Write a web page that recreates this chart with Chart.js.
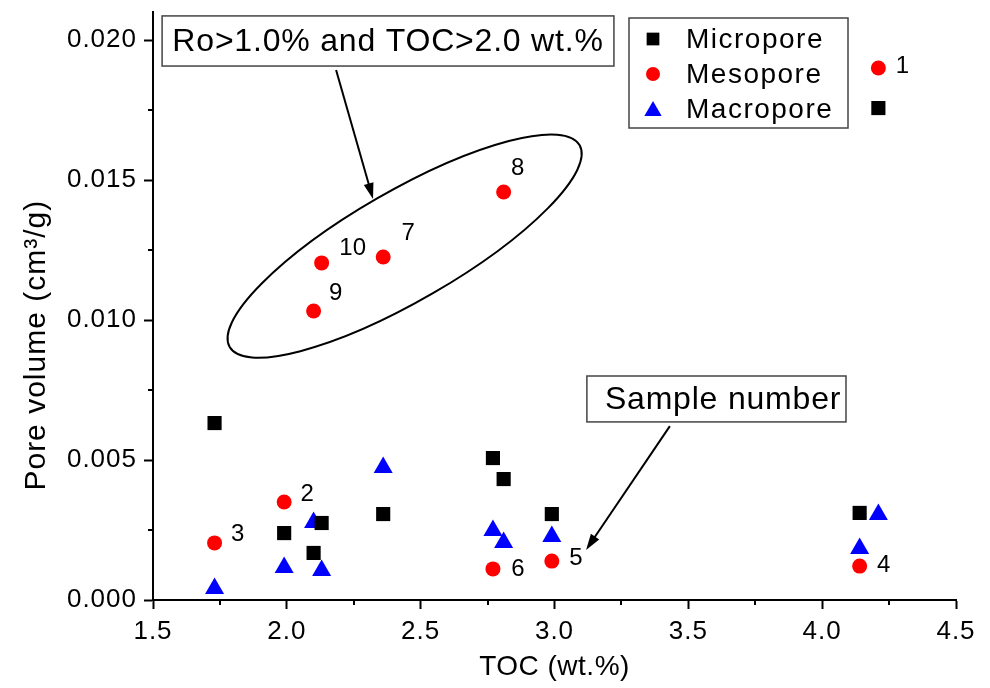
<!DOCTYPE html>
<html>
<head>
<meta charset="utf-8">
<script src="https://cdn.jsdelivr.net/npm/chart.js@4.4.1/dist/chart.umd.min.js"></script>
<style>
  html, body { margin: 0; padding: 0; background: #fff; }
  #wrap { width: 990px; height: 688px; }
</style>
</head>
<body>
<div id="wrap"><canvas id="mycanvas" width="990" height="688"></canvas></div>
<script>
// sample numbers and their TOC (wt.%)
var samples = ['1', '2', '3', '4', '5', '6', '7', '8', '9', '10'];
var toc = [4.21, 1.99, 1.73, 4.14, 2.99, 2.77, 2.36, 2.81, 2.10, 2.13];

// pore volume, cm3/g
var micropore = [0.01757, 0.00239, 0.00632, 0.00311, 0.00307, 0.00507, 0.00307, 0.00432, 0.00168, 0.00275];
var mesopore  = [0.01900, 0.00350, 0.00204, 0.00121, 0.00139, 0.00111, 0.01225, 0.01457, 0.01032, 0.01204];
var macropore = [0.00305, 0.00116, 0.00041, 0.00184, 0.00227, 0.00248, 0.00473, 0.00205, 0.00277, 0.00105];

var xTicks = [1.5, 2.0, 2.5, 3.0, 3.5, 4.0, 4.5];
var yTicks = [0.000, 0.005, 0.010, 0.015, 0.020];

// where the sample number sits relative to its mesopore point (px)
var labelShift = [[24, -2], [23, -8], [23, -9], [24, -1], [24, -3], [25, 0], [25, -24], [14, -24], [22, -18], [31, -15]];

var FONT = 'Arial, "Liberation Sans", sans-serif';

function pts(ys) {
  var out = [];
  for (var i = 0; i < toc.length; i++) out.push({x: toc[i], y: ys[i]});
  return out;
}

function arrow(ctx, x1, y1, x2, y2) {
  var ang = Math.atan2(y2 - y1, x2 - x1), len = 16, hw = 5;
  ctx.beginPath();
  ctx.moveTo(x1, y1);
  ctx.lineTo(x2 - Math.cos(ang) * len * 0.8, y2 - Math.sin(ang) * len * 0.8);
  ctx.stroke();
  ctx.beginPath();
  ctx.moveTo(x2, y2);
  ctx.lineTo(x2 - Math.cos(ang) * len - Math.sin(ang) * hw, y2 - Math.sin(ang) * len + Math.cos(ang) * hw);
  ctx.lineTo(x2 - Math.cos(ang) * len + Math.sin(ang) * hw, y2 - Math.sin(ang) * len - Math.cos(ang) * hw);
  ctx.closePath();
  ctx.fill();
}

function marker(ctx, style, r, x, y) {
  if (Chart.helpers && Chart.helpers.drawPoint) {
    Chart.helpers.drawPoint(ctx, {pointStyle: style, radius: r, rotation: 0, borderWidth: 0}, x, y);
  } else {
    ctx.beginPath(); ctx.arc(x, y, r, 0, Math.PI * 2); ctx.fill();
  }
}

var spacing = {
  id: 'spacing',
  beforeDraw: function(chart) { chart.ctx.letterSpacing = '1px'; }
};

var extras = {
  id: 'extras',
  afterDraw: function(chart) {
    var ctx = chart.ctx, xs = chart.scales.x, ys = chart.scales.y, a = chart.chartArea;
    ctx.save();

    // minor ticks
    ctx.strokeStyle = '#000';
    ctx.lineWidth = 2;
    ctx.beginPath();
    for (var v = 1.75; v < 4.5; v += 0.5) {
      var p = Math.round(xs.getPixelForValue(v));
      ctx.moveTo(p, a.bottom); ctx.lineTo(p, a.bottom + 5);
    }
    for (var w = 0.0025; w < 0.021; w += 0.005) {
      var q = Math.round(ys.getPixelForValue(w));
      ctx.moveTo(a.left, q); ctx.lineTo(a.left - 5, q);
    }
    ctx.stroke();

    // axis titles
    ctx.fillStyle = '#000';
    ctx.textAlign = 'center';
    ctx.textBaseline = 'middle';
    ctx.font = '28px ' + FONT;
    ctx.letterSpacing = '0.5px';
    ctx.fillText('TOC (wt.%)', (a.left + a.right) / 2, 667);
    ctx.save();
    ctx.translate(37, ys.getPixelForValue(0.0091));
    ctx.rotate(-Math.PI / 2);
    ctx.font = '30px ' + FONT;
    ctx.letterSpacing = '1px';
    ctx.fillText('Pore volume (cm\u00B3/g)', 0, 0);
    ctx.restore();

    // sample numbers
    ctx.letterSpacing = '0px';
    ctx.font = '24px ' + FONT;
    for (var i = 0; i < samples.length; i++) {
      ctx.fillText(samples[i], xs.getPixelForValue(toc[i]) + labelShift[i][0], ys.getPixelForValue(mesopore[i]) + labelShift[i][1]);
    }

    // ellipse round the high maturity samples
    ctx.lineWidth = 2;
    ctx.beginPath();
    ctx.ellipse(xs.getPixelForValue(2.44), ys.getPixelForValue(0.01264), 202, 55, -30 * Math.PI / 180, 0, Math.PI * 2);
    ctx.stroke();

    // text boxes
    ctx.strokeStyle = '#444';
    ctx.lineWidth = 1.5;
    var b1 = [xs.getPixelForValue(1.534), ys.getPixelForValue(0.02086), xs.getPixelForValue(3.222), ys.getPixelForValue(0.01907)];
    ctx.strokeRect(b1[0], b1[1], b1[2] - b1[0], b1[3] - b1[1]);
    var b2 = [xs.getPixelForValue(3.121), ys.getPixelForValue(0.0080), xs.getPixelForValue(4.089), ys.getPixelForValue(0.00636)];
    ctx.strokeRect(b2[0], b2[1], b2[2] - b2[0], b2[3] - b2[1]);
    ctx.font = '32px ' + FONT;
    ctx.letterSpacing = '0.8px';
    ctx.fillText('Ro>1.0% and TOC>2.0 wt.%', (b1[0] + b1[2]) / 2, (b1[1] + b1[3]) / 2 + 1);
    ctx.textAlign = 'left';
    ctx.fillText('Sample number', b2[0] + 18, (b2[1] + b2[3]) / 2 + 1);

    // arrows
    ctx.strokeStyle = '#000';
    ctx.lineWidth = 2;
    arrow(ctx, xs.getPixelForValue(2.184), ys.getPixelForValue(0.01893), xs.getPixelForValue(2.322), ys.getPixelForValue(0.01432));
    arrow(ctx, xs.getPixelForValue(3.431), ys.getPixelForValue(0.00621), xs.getPixelForValue(3.118), ys.getPixelForValue(0.00179));

    // legend
    var lx = a.right - 327, ly = a.top + 6;
    ctx.strokeStyle = '#444';
    ctx.lineWidth = 1.5;
    ctx.strokeRect(lx, ly, 219, 110);
    var sets = chart.data.datasets, sizes = [9, 7, 10];
    ctx.font = '28px ' + FONT;
    ctx.letterSpacing = '1.5px';
    for (var k = 0; k < sets.length; k++) {
      var ry = ly + 21 + k * 35;
      ctx.fillStyle = sets[k].backgroundColor;
      marker(ctx, sets[k].pointStyle, sizes[k], lx + 24, ry + (k == 2 ? 2 : 0));
      ctx.fillStyle = '#000';
      ctx.fillText(sets[k].label, lx + 57, ry + 1);
    }
    ctx.restore();
  }
};

var chartdata = {
  datasets: [
    {label: 'Micropore', data: pts(micropore), pointStyle: 'rect', pointRadius: 10, backgroundColor: '#000000', borderColor: '#000000', borderWidth: 0},
    {label: 'Mesopore', data: pts(mesopore), pointStyle: 'circle', pointRadius: 7.5, backgroundColor: '#ff0000', borderColor: '#ff0000', borderWidth: 0},
    {label: 'Macropore', data: pts(macropore), pointStyle: 'triangle', pointRadius: 11, backgroundColor: '#0000ff', borderColor: '#0000ff', borderWidth: 0}
  ]
};

var ctx = document.getElementById('mycanvas');

var scatter = new Chart(ctx, {
  type: 'scatter',
  data: chartdata,
  options: {
    responsive: false,
    animation: false,
    devicePixelRatio: 1,
    layout: {padding: {top: 12, right: 34, left: 0, bottom: 0}},
    plugins: {legend: {display: false}, tooltip: {enabled: false}},
    scales: {
      x: {
        type: 'linear', min: 1.5, max: 4.5,
        afterBuildTicks: function(s) { s.ticks = xTicks.map(function(v) { return {value: v}; }); },
        afterFit: function(s) { s.height = 88; s.paddingLeft = 0; s.paddingRight = 0; },
        border: {display: true, color: '#000', width: 2},
        grid: {drawOnChartArea: false, drawTicks: true, tickLength: 9, tickWidth: 2, tickColor: '#000'},
        ticks: {color: '#000', padding: 7, maxRotation: 0, font: {family: FONT, size: 26},
          callback: function(v) { return v.toFixed(1); }}
      },
      y: {
        type: 'linear', min: 0, max: 0.021,
        afterBuildTicks: function(s) { s.ticks = yTicks.map(function(v) { return {value: v}; }); },
        afterFit: function(s) { s.width = 153; s.paddingTop = 0; s.paddingBottom = 0; },
        border: {display: true, color: '#000', width: 2},
        grid: {drawOnChartArea: false, drawTicks: true, tickLength: 9, tickWidth: 2, tickColor: '#000'},
        ticks: {color: '#000', padding: 7, font: {family: FONT, size: 26},
          callback: function(v) { return v.toFixed(3); }}
      }
    }
  },
  plugins: [spacing, extras]
});
</script>
</body>
</html>
